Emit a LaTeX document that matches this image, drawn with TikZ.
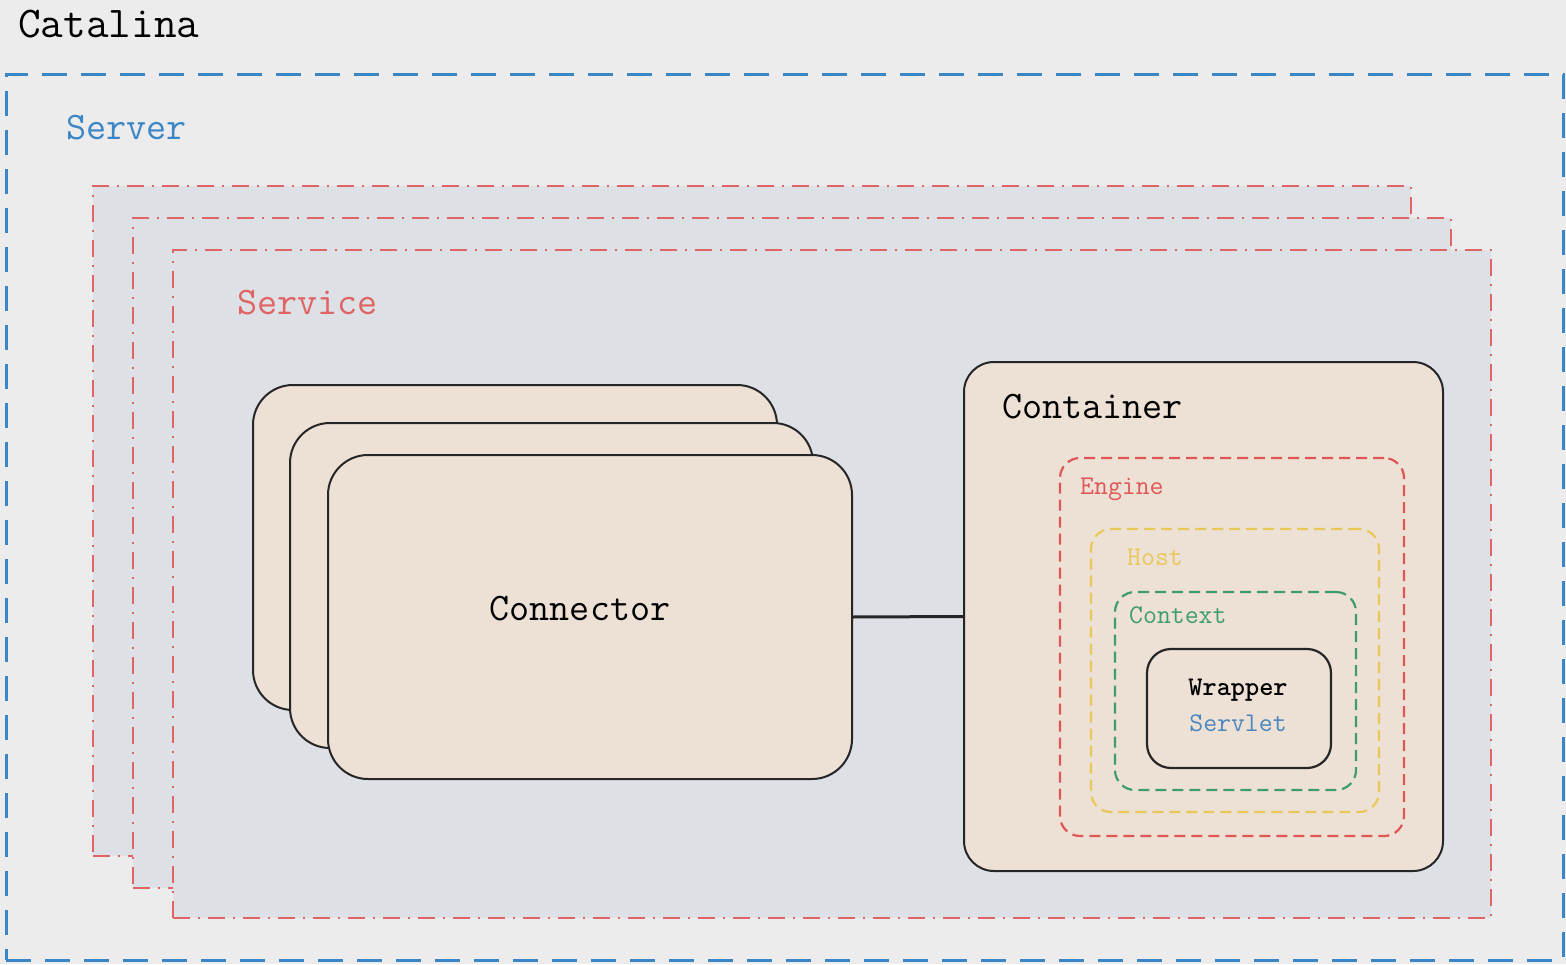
\documentclass[tikz,border=0pt]{standalone}
\usepackage{fontspec}
\definecolor{bgc}{HTML}{ECECEC}
\definecolor{srvblue}{HTML}{3A86C6}
\definecolor{svcred}{HTML}{E06464}
\definecolor{svcfill}{HTML}{DDE0E5}
\definecolor{beige}{HTML}{EDE0D5}
\definecolor{engred}{HTML}{E05555}
\definecolor{hostyel}{HTML}{E9C858}
\definecolor{ctxgreen}{HTML}{3E9E6A}
\definecolor{servblue}{HTML}{4A86C0}
\tikzset{
  box/.style={anchor=north west, inner sep=0pt, outer sep=0pt},
  serverbox/.style={box, draw=srvblue, line width=3pt, dash pattern=on 25pt off 14pt},
  svcbox/.style={box, draw=svcred, fill=svcfill, line width=2.4pt, dash pattern=on 17pt off 8pt on 2pt off 8pt},
  connbox/.style={box, draw=black!85, fill=beige, line width=2pt, rounded corners=40pt},
  contbox/.style={box, draw=black!85, fill=beige, line width=2pt, rounded corners=30pt},
  innerbox/.style={box, line width=2.2pt, dash pattern=on 11pt off 6pt, rounded corners=20pt},
  wrapbox/.style={box, draw=black!85, line width=2.2pt, rounded corners=24pt},
  bigtxt/.style={font=\fontsize{39}{45}\selectfont\ttfamily, inner sep=0pt},
  smalltxt/.style={font=\fontsize{27}{31}\selectfont\ttfamily, inner sep=0pt},
}
\begin{document}
\begin{tikzpicture}[x=1pt,y=-1pt]
\fill[bgc] (0,0) rectangle (1566,964);
\useasboundingbox (0,0) rectangle (1566,964);

\node[font=\fontsize{44}{50}\selectfont\ttfamily, inner sep=0pt, anchor=west] (catalina) at (18,24) {Catalina};

\node[serverbox, minimum width=1557pt, minimum height=886pt] (server) at (6,74) {};
\node[bigtxt, text=srvblue, anchor=west] (servertxt) at (66,128) {Server};

\node[svcbox, minimum width=1318pt, minimum height=670pt] (svc1) at (93,186) {};
\node[svcbox, minimum width=1318pt, minimum height=670pt] (svc2) at (133,218) {};
\node[svcbox, minimum width=1318pt, minimum height=668pt] (svc3) at (173,250) {};
\node[bigtxt, text=svcred, anchor=west] (svctxt) at (237,303) {Service};

\node[connbox, minimum width=524pt, minimum height=325pt] (conn1) at (253,385) {};
\node[connbox, minimum width=523pt, minimum height=325pt] (conn2) at (290,423) {};
\node[connbox, minimum width=524pt, minimum height=324pt] (conn3) at (328,455) {};
\node[bigtxt] (conntxt) at (580,609) {Connector};

\node[contbox, minimum width=479pt, minimum height=509pt] (cont) at (964,362) {};
\node[bigtxt, anchor=west] (conttxt) at (1002,407) {Container};

\draw[line width=3pt, black!85] (conn3.east) -- (cont.west);

\node[innerbox, draw=engred, minimum width=344pt, minimum height=378pt] (engine) at (1060,458) {};
\node[smalltxt, text=engred, anchor=west] (enginetxt) at (1080,489) {Engine};

\node[innerbox, draw=hostyel, minimum width=288pt, minimum height=283pt] (host) at (1091,529) {};
\node[smalltxt, text=hostyel, anchor=west] (hosttxt) at (1127,557) {Host};

\node[innerbox, draw=ctxgreen, minimum width=241pt, minimum height=198pt] (ctx) at (1115,592) {};
\node[smalltxt, text=ctxgreen, anchor=west] (ctxtxt) at (1129,615) {Context};

\node[wrapbox, minimum width=184pt, minimum height=119pt] (wrap) at (1147,649) {};
\node[smalltxt, font=\fontsize{27}{31}\selectfont\ttfamily\bfseries] (wraptxt) at (1238,690) {Wrapper};
\node[smalltxt, text=servblue] (servlettxt) at (1238,723) {Servlet};
\end{tikzpicture}
\end{document}
